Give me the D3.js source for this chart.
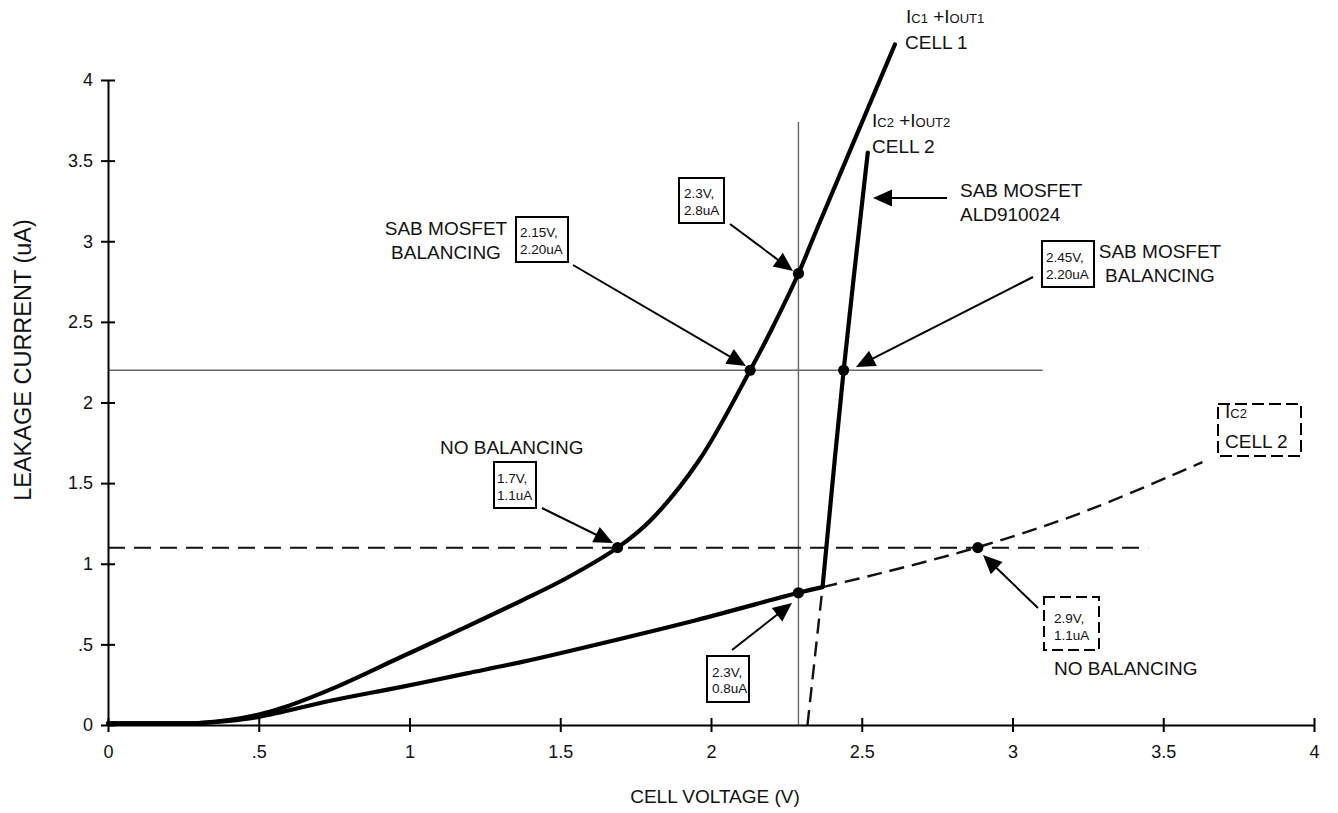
<!DOCTYPE html>
<html><head><meta charset="utf-8">
<script src="https://cdn.jsdelivr.net/npm/d3@7"></script>
<style>
body{margin:0;background:#fff}
svg{display:block}
text{font-family:"Liberation Sans",Arial,Helvetica,sans-serif;fill:#111}
</style>
</head><body>
<svg id="chart" width="1338" height="813"></svg>
<script>
// ---------- DATA ----------
const xTickValues = [0, 0.5, 1, 1.5, 2, 2.5, 3, 3.5, 4];
const yTickValues = [0, 0.5, 1, 1.5, 2, 2.5, 3, 3.5, 4];
const xTitle = "CELL VOLTAGE (V)";
const yTitle = "LEAKAGE CURRENT (uA)";

// IC1 + IOUT1, CELL 1 (solid)
const cell1V = [0, 0.15, 0.3, 0.4, 0.5, 0.6, 0.75, 0.97, 1.19, 1.37, 1.52, 1.69, 1.8, 1.96, 2.13, 2.2, 2.29, 2.35, 2.61];
const cell1I = [0.01, 0.01, 0.012, 0.03, 0.065, 0.12, 0.23, 0.42, 0.61, 0.77, 0.91, 1.1, 1.27, 1.64, 2.2, 2.45, 2.8, 3.07, 4.22];

// IC2 + IOUT2, CELL 2 with SAB MOSFET (solid)
const cell2V = [0, 0.15, 0.3, 0.4, 0.5, 0.75, 0.97, 1.19, 1.37, 1.51, 1.95, 2.29, 2.37, 2.44, 2.52];
const cell2I = [0.01, 0.01, 0.012, 0.025, 0.05, 0.155, 0.235, 0.32, 0.39, 0.45, 0.65, 0.82, 0.855, 2.2, 3.55];

// IC2 CELL 2 alone (dashed)
const ic2V = [2.32, 2.37, 2.56, 2.88, 3.22, 3.63];
const ic2I = [0.0, 0.855, 0.94, 1.1, 1.31, 1.63];

// marked points
const markV = [1.69, 2.13, 2.29, 2.44, 2.29, 2.885];
const markI = [1.1, 2.2, 2.8, 2.2, 0.82, 1.1];

// reference lines
const refHSolid = {value: 2.2, from: 0, to: 3.1};
const refVSolid = {value: 2.29, from: 0, to: 3.74};
const refHDashed = {value: 1.1, from: 0, to: 3.45};

// annotation texts
const boxTexts = [
  ["2.15V,", "2.20uA"],
  ["2.3V,", "2.8uA"],
  ["2.45V,", "2.20uA"],
  ["1.7V,", "1.1uA"],
  ["2.3V,", "0.8uA"],
  ["2.9V,", "1.1uA"]
];
const plainLabels = [
  ["SAB MOSFET", "BALANCING"],
  ["NO BALANCING"],
  ["SAB MOSFET", "ALD910024"],
  ["SAB MOSFET", "BALANCING"],
  ["NO BALANCING"]
];

// ---------- LAYOUT (pixels / styles) ----------
const svg = d3.select("#chart");
const x = d3.scaleLinear().domain([0, 4]).range([108, 1314]);
const y = d3.scaleLinear().domain([0, 4]).range([725, 80]);

const boxLayout = [
  {x: 516, y: 217, w: 52, h: 45, tx: 4, b1: 20, b2: 37, dashed: false},
  {x: 679, y: 178, w: 45, h: 45, tx: 5, b1: 20, b2: 37, dashed: false},
  {x: 1042, y: 241, w: 52, h: 46, tx: 4, b1: 21, b2: 38, dashed: false},
  {x: 494, y: 462, w: 42, h: 46, tx: 3, b1: 21, b2: 38, dashed: false},
  {x: 707, y: 656, w: 42, h: 46, tx: 5, b1: 21, b2: 37, dashed: false},
  {x: 1044, y: 597, w: 55, h: 53, tx: 10, b1: 26, b2: 43, dashed: true}
];
const labelLayout = [
  {x: 446, y: 235, anchor: "middle"},
  {x: 440, y: 454, anchor: "start"},
  {x: 960, y: 197, anchor: "start"},
  {x: 1160, y: 258, anchor: "middle"},
  {x: 1054, y: 675, anchor: "start"}
];
const arrows = [
  [573, 265, 746, 366],
  [730, 224, 793, 271],
  [1033, 277, 856, 367],
  [947, 198, 873, 198],
  [542, 508, 613, 543],
  [732, 650, 792, 603],
  [1038, 608, 983, 555]
];

const toPts = (vs, is) => vs.map((v, i) => [v, is[i]]);
const smooth = d3.line().x(d => x(d[0])).y(d => y(d[1])).curve(d3.curveCatmullRom.alpha(0.5));

// split a series at sharp corners (large jumps in slope) and smooth each piece
function cornerPath(pts) {
  const pieces = [[pts[0]]];
  for (let i = 1; i < pts.length; i++) {
    const cur = pieces[pieces.length - 1];
    cur.push(pts[i]);
    if (i < pts.length - 1) {
      const s0 = (pts[i][1] - pts[i - 1][1]) / (pts[i][0] - pts[i - 1][0]);
      const s1 = (pts[i + 1][1] - pts[i][1]) / (pts[i + 1][0] - pts[i][0]);
      if (Math.abs(s1) > 6 * Math.abs(s0) + 1e-9 && Math.abs(s1) > 5 ||
          Math.abs(s0) > 6 * Math.abs(s1) + 1e-9 && Math.abs(s0) > 5) {
        pieces.push([pts[i]]);
      }
    }
  }
  return pieces.map(p => smooth(p)).join("");
}

// reference lines
svg.append("line")
  .attr("x1", x(refHSolid.from)).attr("x2", x(refHSolid.to))
  .attr("y1", y(refHSolid.value)).attr("y2", y(refHSolid.value))
  .attr("stroke", "#666").attr("stroke-width", 1.4);
svg.append("line")
  .attr("x1", x(refVSolid.value)).attr("x2", x(refVSolid.value))
  .attr("y1", y(refVSolid.from)).attr("y2", y(refVSolid.to))
  .attr("stroke", "#666").attr("stroke-width", 1.4);
svg.append("line")
  .attr("x1", x(refHDashed.from)).attr("x2", x(refHDashed.to))
  .attr("y1", y(refHDashed.value)).attr("y2", y(refHDashed.value))
  .attr("stroke", "#111").attr("stroke-width", 2).attr("stroke-dasharray", "17,9");

// dashed IC2 curve
svg.append("path")
  .attr("d", cornerPath(toPts(ic2V, ic2I))).attr("fill", "none")
  .attr("stroke", "#111").attr("stroke-width", 2.4).attr("stroke-dasharray", "15,8");

// solid curves
svg.append("path")
  .attr("d", cornerPath(toPts(cell1V, cell1I))).attr("fill", "none")
  .attr("stroke", "#000").attr("stroke-width", 4.2).attr("stroke-linejoin", "round").attr("stroke-linecap", "round");
svg.append("path")
  .attr("d", cornerPath(toPts(cell2V, cell2I))).attr("fill", "none")
  .attr("stroke", "#000").attr("stroke-width", 4.2).attr("stroke-linejoin", "round").attr("stroke-linecap", "round");

// axes
const fmt = v => v === 0 ? "0" : (v < 1 ? String(v).replace(/^0/, "") : String(v));
const gx = svg.append("g").attr("transform", `translate(0,${y(0)})`)
  .call(d3.axisBottom(x).tickValues(xTickValues).tickFormat(fmt).tickSizeInner(7).tickSizeOuter(0).tickPadding(13));
const gy = svg.append("g").attr("transform", `translate(${x(0)},0)`)
  .call(d3.axisLeft(y).tickValues(yTickValues).tickFormat(fmt).tickSizeInner(7).tickSizeOuter(0).tickPadding(8));
[gx, gy].forEach(g => {
  g.select(".domain").attr("stroke", "#000").attr("stroke-width", 2);
  g.selectAll(".tick line").attr("stroke", "#000").attr("stroke-width", 2);
  g.selectAll(".tick text").attr("font-size", 18).attr("font-family", "Liberation Sans, Arial, sans-serif").attr("fill", "#111");
});
gx.selectAll(".tick line").attr("y1", -7);
gy.selectAll(".tick line").attr("x1", 7);

// axis titles
svg.append("text").attr("x", 715).attr("y", 803).attr("text-anchor", "middle")
  .attr("font-size", 19).text(xTitle);
svg.append("text").attr("transform", "translate(31,360) rotate(-90)").attr("text-anchor", "middle")
  .attr("font-size", 23.5).text(yTitle);

// marker dots
svg.selectAll("circle.mk").data(toPts(markV, markI)).enter().append("circle")
  .attr("cx", d => x(d[0])).attr("cy", d => y(d[1])).attr("r", 5.6).attr("fill", "#000");

// arrows
arrows.forEach(([x1, y1, x2, y2]) => {
  const a = Math.atan2(y2 - y1, x2 - x1), L = 19, Wd = 8.5;
  const bx = x2 - L * Math.cos(a), by = y2 - L * Math.sin(a);
  const nx = -Math.sin(a), ny = Math.cos(a);
  svg.append("line").attr("x1", x1).attr("y1", y1).attr("x2", bx + 2 * Math.cos(a)).attr("y2", by + 2 * Math.sin(a))
    .attr("stroke", "#000").attr("stroke-width", 2);
  svg.append("polygon")
    .attr("points", [[x2, y2], [bx + Wd * nx, by + Wd * ny], [bx - Wd * nx, by - Wd * ny]].map(p => p.join(",")).join(" "))
    .attr("fill", "#000");
});

// boxed values
boxTexts.forEach((lines, i) => {
  const b = boxLayout[i];
  svg.append("rect").attr("x", b.x).attr("y", b.y).attr("width", b.w).attr("height", b.h)
    .attr("fill", "#fff").attr("stroke", "#000").attr("stroke-width", 2)
    .attr("stroke-dasharray", b.dashed ? "11,5" : null);
  svg.append("text").attr("x", b.x + b.tx).attr("y", b.y + b.b1).attr("font-size", 13.5).text(lines[0]);
  svg.append("text").attr("x", b.x + b.tx).attr("y", b.y + b.b2).attr("font-size", 13.5).text(lines[1]);
});

// plain labels
plainLabels.forEach((lines, i) => {
  const l = labelLayout[i];
  lines.forEach((t, j) => {
    svg.append("text").attr("x", l.x).attr("y", l.y + j * 24).attr("text-anchor", l.anchor)
      .attr("font-size", 19).text(t);
  });
});

// series labels with small-cap subscripts
function seriesLabel(px, py, parts) {
  const t = svg.append("text").attr("x", px).attr("y", py);
  parts.forEach(([s, small]) => t.append("tspan").attr("font-size", small ? 13 : 19).text(s));
  return t;
}
seriesLabel(906, 23, [["I", 0], ["C1", 1], [" +I", 0], ["OUT1", 1]]);
svg.append("text").attr("x", 905).attr("y", 49).attr("font-size", 19).text("CELL 1");
seriesLabel(872, 127, [["I", 0], ["C2", 1], [" +I", 0], ["OUT2", 1]]);
svg.append("text").attr("x", 872).attr("y", 153).attr("font-size", 19).text("CELL 2");

// dashed legend box for IC2
svg.append("rect").attr("x", 1218).attr("y", 404).attr("width", 83).attr("height", 52)
  .attr("fill", "none").attr("stroke", "#000").attr("stroke-width", 2).attr("stroke-dasharray", "12,5");
seriesLabel(1225, 418, [["I", 0], ["C2", 1]]);
svg.append("text").attr("x", 1225).attr("y", 448).attr("font-size", 19).text("CELL 2");
</script>
</body></html>
